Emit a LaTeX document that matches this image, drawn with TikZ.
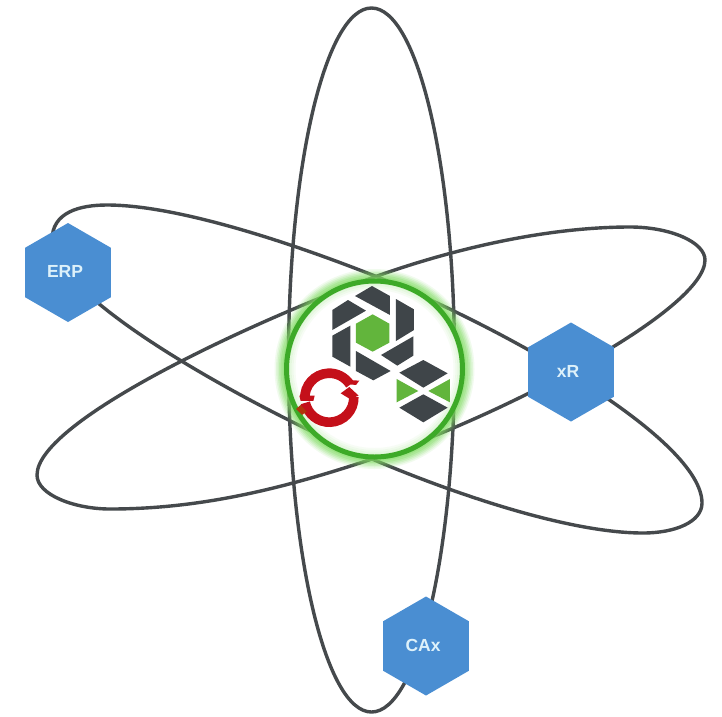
\documentclass[tikz,border=0pt]{standalone}
\usepackage{fontspec}
\setmainfont{Liberation Sans}
\usetikzlibrary{shapes.geometric}
\definecolor{orbit}{HTML}{45494C}
\definecolor{hexblue}{HTML}{4A8ED2}
\definecolor{hextext}{HTML}{DDF1FA}
\definecolor{ringgreen}{HTML}{3DAA28}
\definecolor{glowgreen}{HTML}{7FDC60}
\definecolor{logodark}{HTML}{3F4549}
\definecolor{logogreen}{HTML}{62B53C}
\definecolor{logored}{HTML}{C4101A}
\newcommand{\hexlabel}[1]{\raisebox{1.5pt}{#1}\hspace*{6pt}}
\tikzset{
  orbitline/.style={draw=orbit,line width=3.4pt},
  hexnode/.style={regular polygon,regular polygon sides=6,shape border rotate=30,fill=hexblue,
    minimum size=99pt,inner sep=0pt,text=hextext,font=\bfseries\fontsize{17.5}{20}\selectfont},
  darkpiece/.style={fill=logodark},
  greenpiece/.style={fill=logogreen},
  redarc/.style={draw=logored,line width=9.6pt}
}
\begin{document}
\begin{tikzpicture}[x=1pt,y=-1pt]
\useasboundingbox (0,0) rectangle (722,716);
\fill[white] (0,0) rectangle (722,716);
% orbits
\draw[orbitline] (371.5,360) ellipse [x radius=83pt,y radius=352pt];
\draw[orbitline] (107,205) .. controls (180,205) and (300,246) .. (380,278)
  .. controls (510,331) and (702,440) .. (702,503)
  .. controls (702,522) and (675,533) .. (643,533)
  .. controls (570,533) and (457,495) .. (372,459)
  .. controls (262,412) and (52,300) .. (52,240)
  .. controls (52,212) and (80,205) .. (107,205) -- cycle;
\draw[orbitline] (705,260) .. controls (705,242) and (670,227) .. (630,227)
  .. controls (550,227) and (460,247) .. (380,275)
  .. controls (260,318) and (37,420) .. (37,475)
  .. controls (37,495) and (75,509) .. (110,509)
  .. controls (200,509) and (282,489) .. (372,459)
  .. controls (502,416) and (705,310) .. (705,260) -- cycle;
% glow
\coordinate (g) at (374.5,369);
\foreach \r/\o in {100/.10,98.5/.14,97/.18,95.5/.22,94/.28,92/.34}{
  \fill[glowgreen,opacity=\o] (g) circle [radius=\r pt];
}
\fill[white] (g) circle [radius=86pt];
\foreach \r/\o in {86/.30,84/.20,82/.12,80/.06}{
  \draw[glowgreen,opacity=\o,line width=2pt] (g) circle [radius=\r pt];
}
\draw[ringgreen,line width=5pt] (g) circle [radius=88pt];
% red ring arcs
\draw[redarc] ({329.3+24.5*cos(183)},{397.7-24.5*sin(183)}) arc [start angle=183,end angle=32,radius=24.5pt];
\draw[redarc] ({329.3+24.5*cos(2)},{397.7-24.5*sin(2)}) arc [start angle=2,end angle=-168,radius=24.5pt];
% logos, in 3x crop coordinates
\begin{scope}[shift={(270,265)},x=0.3333pt,y=-0.3333pt]
  \fill[greenpiece] (308,148)--(358,176)--(358,233)--(308,260)--(258,233)--(258,176)--cycle;
  \fill[darkpiece] (255,93)--(306,63)--(360,93)--(360,150)--cycle;
  \fill[darkpiece] (378,102)--(432,133)--(432,195)--(378,228)--cycle;
  \fill[darkpiece] (333,270)--(430,214)--(430,272)--(382,302)--cycle;
  \fill[darkpiece] (258,258)--(362,318)--(310,346)--(258,318)--cycle;
  \fill[darkpiece] (187,212)--(241,182)--(241,305)--(187,275)--cycle;
  \fill[darkpiece] (187,135)--(234,105)--(288,137)--(187,195)--cycle;
  \fill[darkpiece] (388,323)--(460,285)--(533,325)--(460,368)--cycle;
  \fill[darkpiece] (388,428)--(460,388)--(533,428)--(460,472)--cycle;
  \fill[greenpiece] (380,342)--(445,378)--(380,412)--cycle;
  \fill[greenpiece] (540,342)--(475,378)--(540,412)--cycle;
  % red ring arrow tabs
  \fill[logored] (235,345)--(268,347)--(258,360)--(238,358)--cycle;
  \fill[logored] (212,385)--(238,366)--(266,392)--(240,402)--cycle;
  \fill[logored] (88,392)--(134,392)--(130,408)--(92,408)--cycle;
  \fill[logored!55!orange!80!black] (78,432)--(92,420)--(110,440)--(96,450)--cycle;
\end{scope}
% hexagons
\node[hexnode] (ERP) at (68,272.5) {\hexlabel{ERP}};
\node[hexnode] (xR) at (571,372) {\hexlabel{xR}};
\node[hexnode] (CAx) at (426,646) {\hexlabel{CAx}};
\end{tikzpicture}
\end{document}
